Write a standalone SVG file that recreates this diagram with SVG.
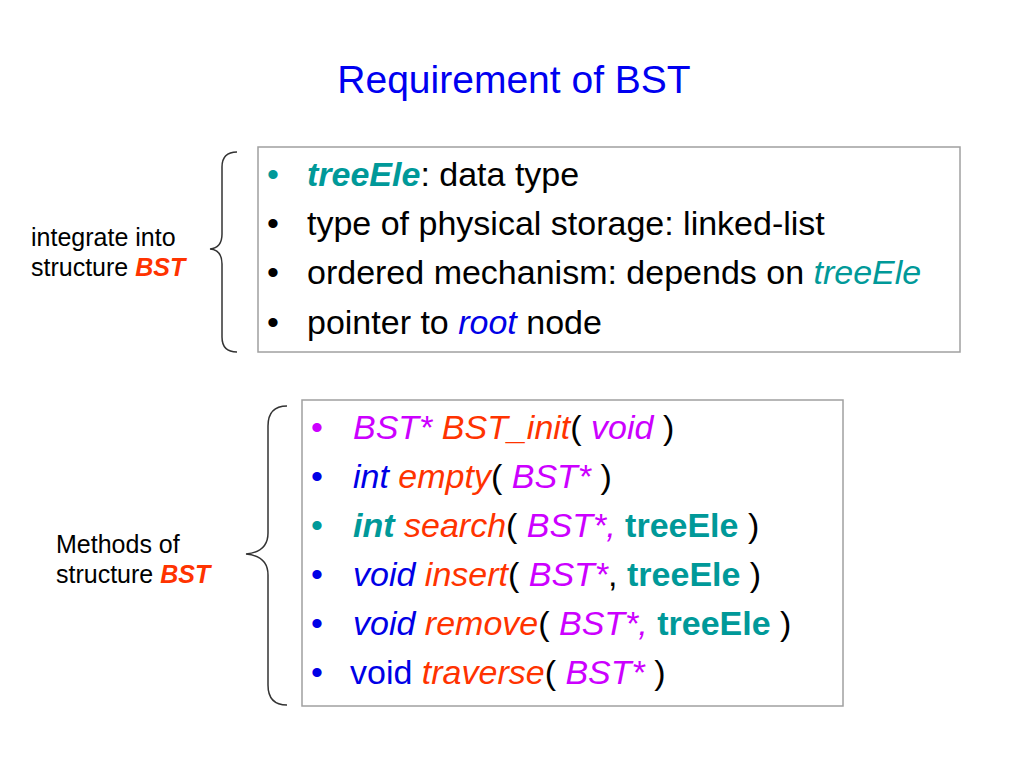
<svg xmlns="http://www.w3.org/2000/svg" width="1024" height="768" viewBox="0 0 1024 768">
<style>
text{font-family:"Liberation Sans",Arial,Helvetica,sans-serif;fill:#000}
.t{font-size:34px}
.lbl{font-size:25px}
.title{font-size:39px;fill:#0000F0}
.box{fill:#fff;stroke:#a0a0a0;stroke-width:1.5}
.brace{fill:none;stroke:#333;stroke-width:1.5}
.i{font-style:italic}
.b{font-weight:bold}
.teal{fill:#009999}
.blue{fill:#0000E6}
.mag{fill:#CC00FF}
.org{fill:#FF3300}
.blk{fill:#000}
</style>
<rect width="1024" height="768" fill="#fff"/>
<g id="title"><text class="title" x="514" y="93" text-anchor="middle">Requirement of BST</text></g>

<g id="connectors">
<path class="brace" d="M237 152 Q222 152 222 167 L222 234 Q222 248 210 249 Q222 250 222 264 L222 337 Q222 352 237 352"/>
<path class="brace" d="M287 406 Q268 406 268 426 L268 533 Q268 552 246 554 Q268 556 268 575 L268 685 Q268 705 287 705"/>
</g>

<g id="label1">
<text class="lbl" x="31" y="246">integrate into</text>
<text class="lbl" x="31" y="276">structure <tspan class="b i org">BST</tspan></text>
</g>

<g id="label2">
<text class="lbl" x="56" y="553">Methods of</text>
<text class="lbl" x="56" y="583">structure <tspan class="b i org">BST</tspan></text>
</g>

<g id="box1">
<rect class="box" x="258" y="147" width="702" height="205"/>
<text class="t teal" x="267" y="186">•</text>
<text class="t" x="267" y="235">•</text>
<text class="t" x="267" y="284">•</text>
<text class="t" x="267" y="334">•</text>
<text class="t" x="307" y="186"><tspan class="b i teal">treeEle</tspan>: data type</text>
<text class="t" x="307" y="235">type of physical storage: linked-list</text>
<text class="t" x="307" y="284">ordered mechanism: depends on <tspan class="i teal">treeEle</tspan></text>
<text class="t" x="307" y="334">pointer to <tspan class="i blue">root</tspan> node</text>
</g>

<g id="box2">
<rect class="box" x="302" y="400" width="541" height="306"/>
<text class="t mag" x="311" y="439">•</text>
<text class="t blue" x="311" y="488">•</text>
<text class="t teal" x="311" y="537">•</text>
<text class="t blue" x="311" y="586">•</text>
<text class="t blue" x="311" y="635">•</text>
<text class="t blue" x="311" y="684">•</text>
<text class="t" x="353" y="439"><tspan class="i mag">BST*</tspan><tspan class="i org"> BST_init</tspan><tspan class="blk">(</tspan><tspan class="i mag"> void</tspan><tspan class="blk"> )</tspan></text>
<text class="t" x="353" y="488"><tspan class="i blue">int</tspan><tspan class="i org"> empty</tspan><tspan class="blk">(</tspan><tspan class="i mag"> BST*</tspan><tspan class="blk"> )</tspan></text>
<text class="t" x="353" y="537"><tspan class="b i teal">int</tspan><tspan class="i org"> search</tspan><tspan class="blk">(</tspan><tspan class="i mag"> BST*,</tspan><tspan class="b teal"> treeEle</tspan><tspan class="blk"> )</tspan></text>
<text class="t" x="353" y="586"><tspan class="i blue">void</tspan><tspan class="i org"> insert</tspan><tspan class="blk">(</tspan><tspan class="i mag"> BST*</tspan><tspan class="blk">,</tspan><tspan class="b teal"> treeEle</tspan><tspan class="blk"> )</tspan></text>
<text class="t" x="353" y="635"><tspan class="i blue">void</tspan><tspan class="i org"> remove</tspan><tspan class="blk">(</tspan><tspan class="i mag"> BST*,</tspan><tspan class="b teal"> treeEle</tspan><tspan class="blk"> )</tspan></text>
<text class="t" x="350" y="684"><tspan class="blue">void</tspan><tspan class="i org"> traverse</tspan><tspan class="blk">(</tspan><tspan class="i mag"> BST*</tspan><tspan class="blk"> )</tspan></text>
</g>
</svg>
